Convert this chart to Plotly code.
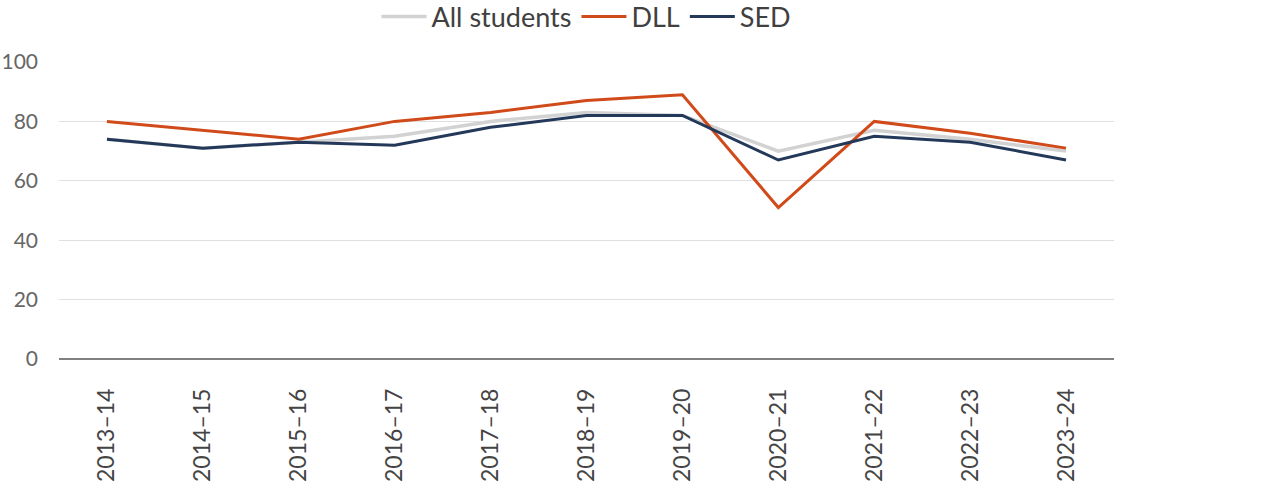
import plotly.graph_objects as go

years = ["2013–14", "2014–15", "2015–16", "2016–17", "2017–18", "2018–19",
         "2019–20", "2020–21", "2021–22", "2022–23", "2023–24"]
all_students = [74, 71, 73, 75, 80, 83, 82, 70, 77, 74, 70]
dll = [80, 77, 74, 80, 83, 87, 89, 51, 80, 76, 71]
sed = [74, 71, 73, 72, 78, 82, 82, 67, 75, 73, 67]
y_ticks = [0, 20, 40, 60, 80, 100]

FONT = "Lato, 'Open Sans', sans-serif"

fig = go.Figure()
fig.add_trace(go.Scatter(x=years, y=all_students, mode="lines", name="All students",
                         line=dict(color="#D2D2D2", width=3.5)))
fig.add_trace(go.Scatter(x=years, y=dll, mode="lines", name="DLL",
                         line=dict(color="#D04A1A", width=3)))
fig.add_trace(go.Scatter(x=years, y=sed, mode="lines", name="SED",
                         line=dict(color="#24395A", width=3)))

fig.update_layout(
    width=1280, height=500,
    margin=dict(l=59, r=166, t=62, b=141, autoexpand=False),
    plot_bgcolor="white", paper_bgcolor="white",
    font=dict(family=FONT, size=20, color="#666666"),
    legend=dict(orientation="h", x=0.5, xanchor="center",
                yref="container", y=1 - 17 / 500, yanchor="middle",
                font=dict(size=27, color="#404040"), itemwidth=45,
                bgcolor="rgba(0,0,0,0)"),
    xaxis=dict(type="category", tickangle=-90, showgrid=False, showline=False,
               ticks="", range=[-0.5, 10.5], ticklabelstandoff=24, automargin=False,
               tickfont=dict(size=23, color="#444444")),
    yaxis=dict(range=[0, 100], tickvals=y_ticks, showgrid=True, gridcolor="#E0E0E0",
               gridwidth=1, zeroline=True, zerolinecolor="#808080", zerolinewidth=1.5,
               showline=False, ticks="", ticklabelstandoff=20, automargin=False,
               tickfont=dict(size=21, color="#666666")),
)

fig.write_html("out.html")
